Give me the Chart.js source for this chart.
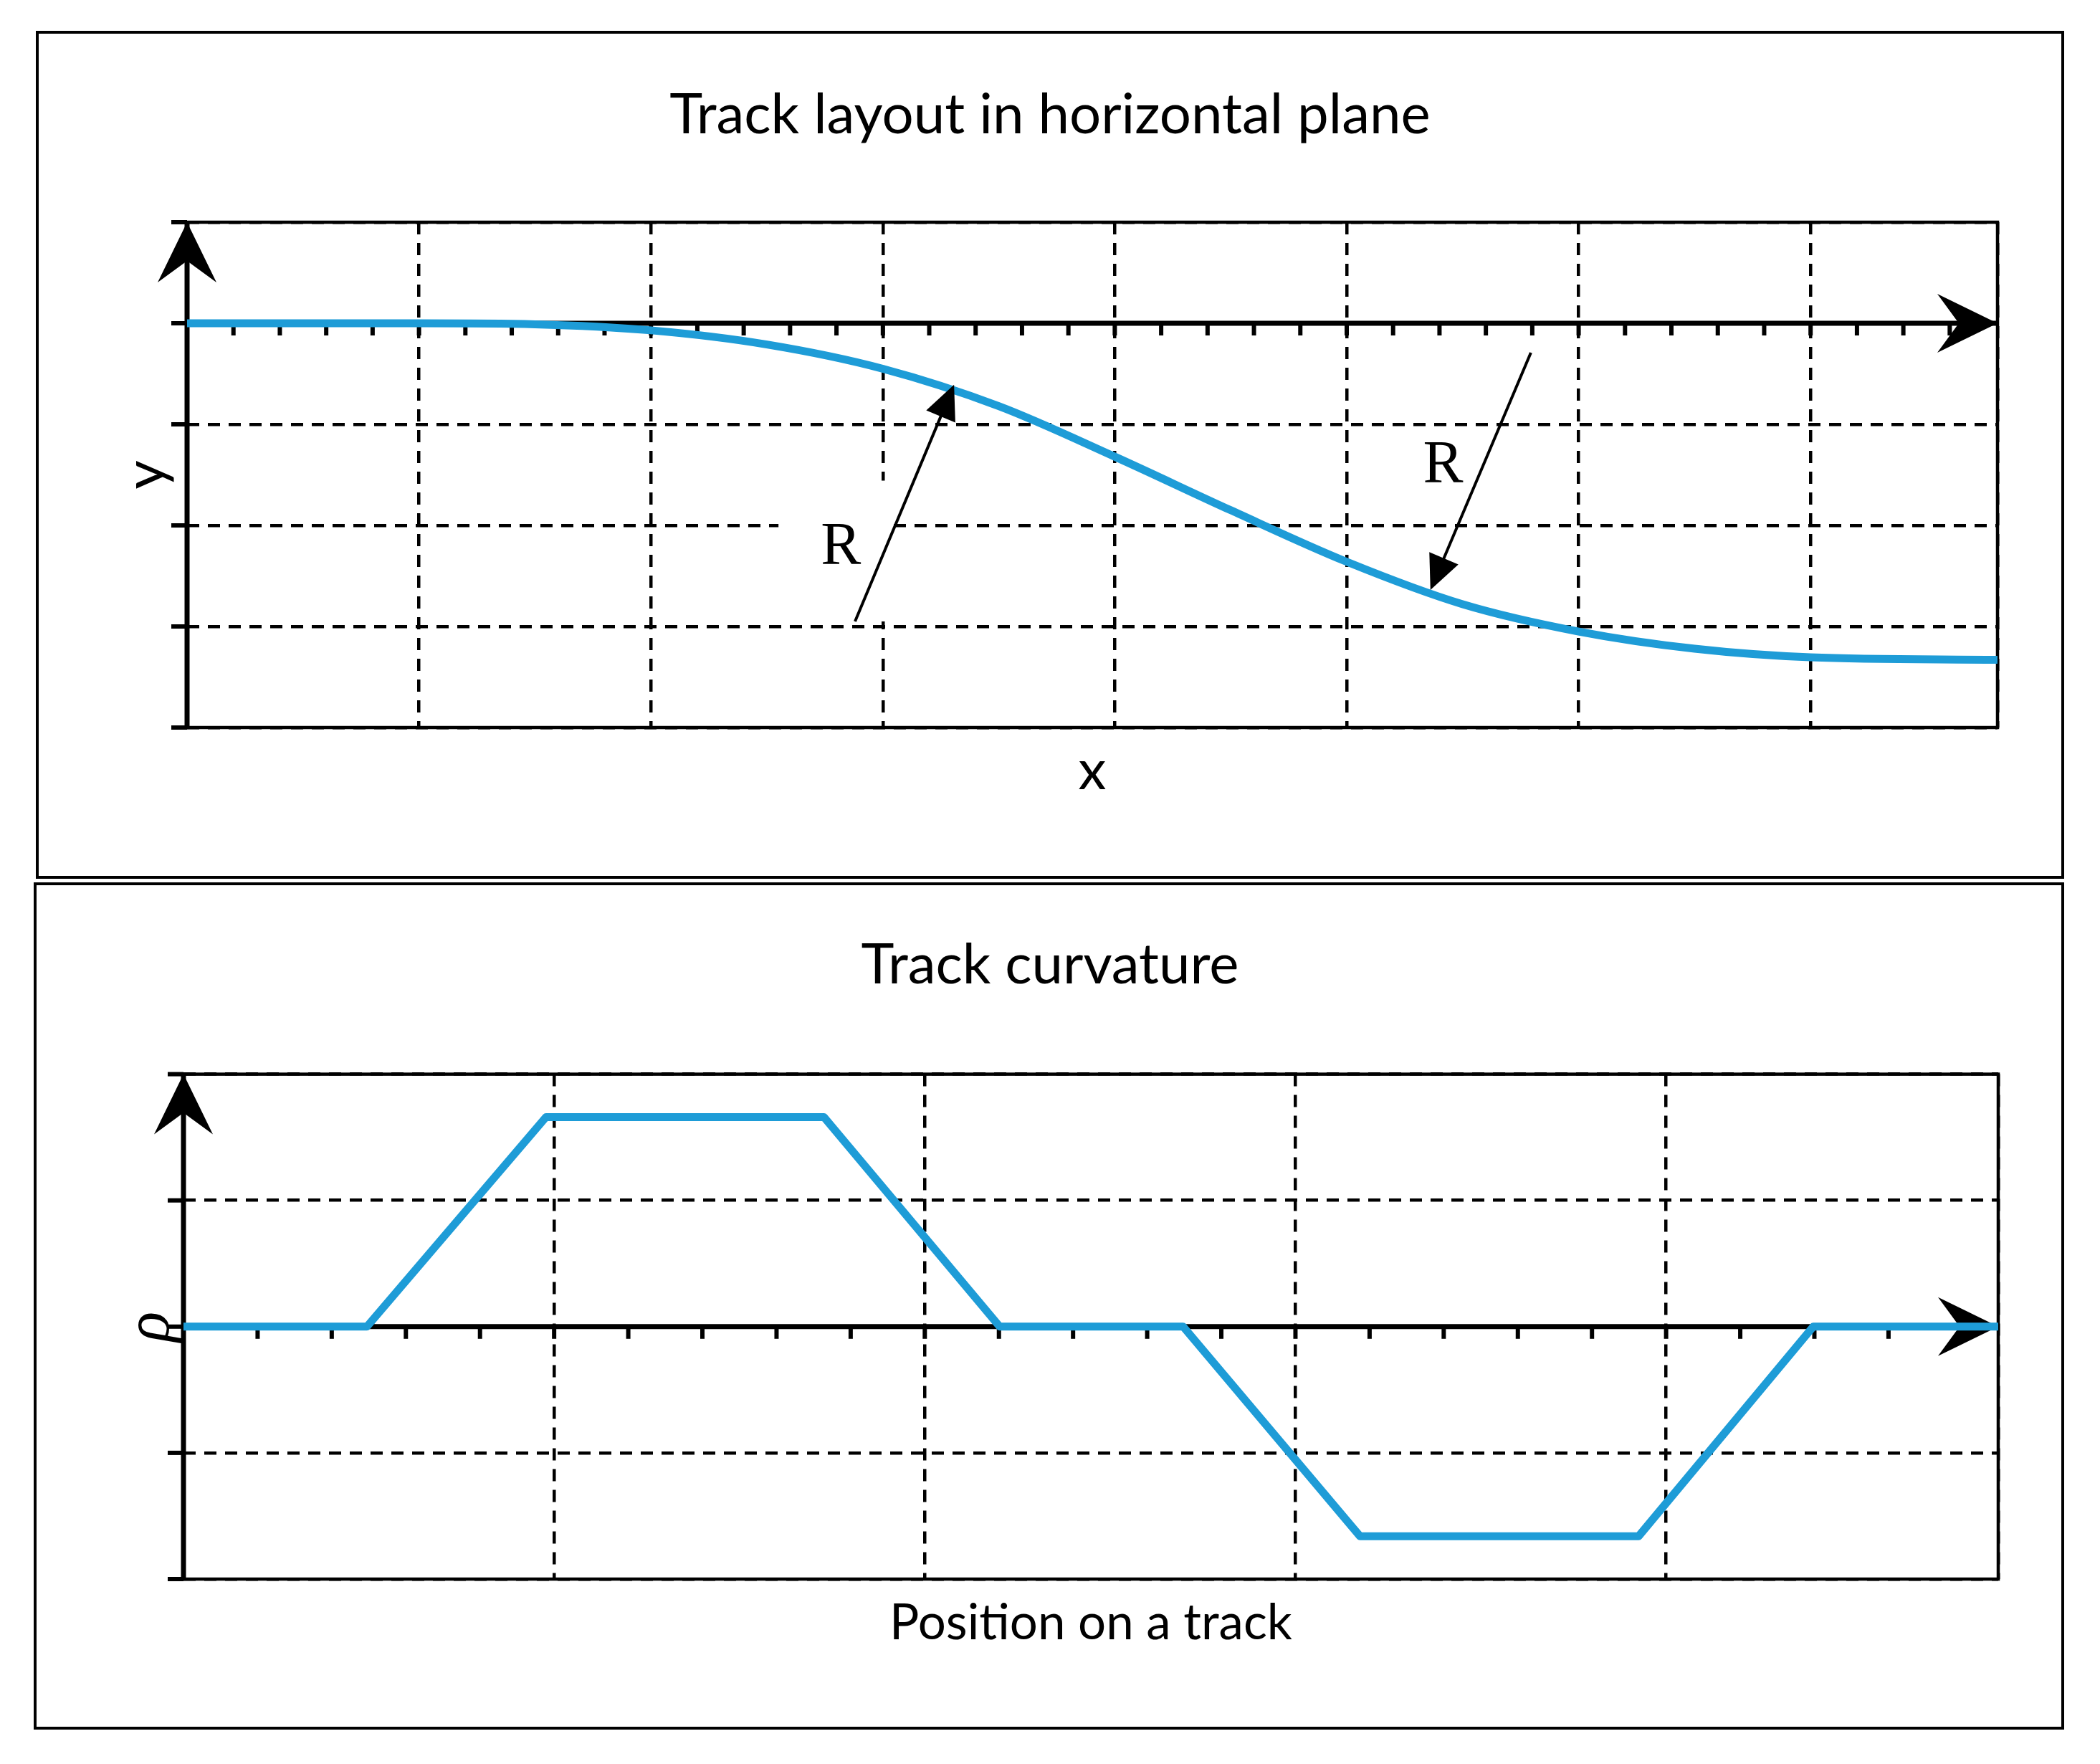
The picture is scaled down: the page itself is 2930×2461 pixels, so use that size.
<!DOCTYPE html>
<html>
<head>
<meta charset="utf-8">
<script src="https://cdn.jsdelivr.net/npm/chart.js@4.4.1/dist/chart.umd.min.js"></script>
<style>
  html, body { margin: 0; padding: 0; background: #fff; }
  body { width: 2930px; height: 2461px; position: relative; overflow: hidden; }
  .panel { position: absolute; box-sizing: border-box; border: 4px solid #000; }
  #panelTop { left: 50px; top: 43px; width: 2830px; height: 1183px; }
  #panelBottom { left: 47px; top: 1231px; width: 2833px; height: 1182px; }
  canvas { position: absolute; left: 0; }
  #layoutChart { top: 0; }
  #curvatureChart { top: 1228px; }
</style>
</head>
<body>
<div class="panel" id="panelTop"></div>
<div class="panel" id="panelBottom"></div>
<canvas id="layoutChart" width="2930" height="1228"></canvas>
<canvas id="curvatureChart" width="2930" height="1233"></canvas>
<script>
// Track layout and curvature, values in grid units

// Track layout in horizontal plane
const layoutX = [0, 0.5, 1, 1.5, 2, 2.5, 3, 3.5, 4, 4.5, 5, 5.5, 6, 6.5, 7, 7.806];
const layoutY = [0, 0, 0, -0.01, -0.07, -0.21, -0.45, -0.82, -1.32, -1.85, -2.36, -2.78, -3.05, -3.22, -3.305, -3.33];

// Track curvature
const curvatureX = [0, 0.495, 0.978, 1.728, 2.202, 2.697, 3.174, 3.926, 4.397, 4.896];
const curvatureY = [0, 0, 1.66, 1.66, 0, 0, -1.66, -1.66, 0, 0];

// R arrows: tail x, tail y, tip x, tip y, label x, label y
const radiusArrows = [
  [2.88, -2.95, 3.307, -0.608, 2.819, -2.228],
  [5.794, -0.291, 5.361, -2.639, 5.416, -1.418]
];
// white box left behind the first R label: x from, x to, y from, y to
const maskBox = [2.55, 3.045, -2.95, -1.557];

const titles = ['Track layout in horizontal plane', 'Track curvature'];
const axisTitles = ['x', 'y', 'Position on a track', 'ρ'];

const BLUE = '#1e9cd7';
const SANS = 'Lato';
const SERIF = '"Liberation Serif", "Times New Roman", serif';

// font sizes so the texts get the widths they have in the picture
const probe = document.createElement('canvas').getContext('2d');
probe.font = '100px ' + SANS;
const FS = Math.round(100 * 1061 / probe.measureText(titles[0]).width);
const FS2 = Math.round(100 * 561 / probe.measureText(axisTitles[2]).width);

function line(ctx, x0, y0, x1, y1) {
  ctx.beginPath();
  ctx.moveTo(x0, y0);
  ctx.lineTo(x1, y1);
  ctx.stroke();
}

// notched arrow head, (dx, dy) points from the tip backwards
function axisArrow(ctx, tx, ty, dx, dy) {
  const L = 84, W = 41, N = 54;
  const nx = -dy, ny = dx;
  ctx.beginPath();
  ctx.moveTo(tx, ty);
  ctx.lineTo(tx + dx * L + nx * W, ty + dy * L + ny * W);
  ctx.lineTo(tx + dx * N, ty + dy * N);
  ctx.lineTo(tx + dx * L - nx * W, ty + dy * L - ny * W);
  ctx.closePath();
  ctx.fill();
}

const decor = {
  id: 'decor',
  beforeDatasetsDraw(chart, args, opts) {
    const {ctx, chartArea: a, scales: {x, y}} = chart;
    ctx.save();
    ctx.strokeStyle = '#000';
    ctx.fillStyle = '#000';
    if (opts.mask) {
      const [x0, x1, y0, y1] = opts.mask;
      const left = x.getPixelForValue(x0), top = y.getPixelForValue(y1);
      ctx.fillStyle = '#fff';
      ctx.fillRect(left, top, x.getPixelForValue(x1) - left, y.getPixelForValue(y0) - top);
      ctx.fillStyle = '#000';
    }
    // frame
    ctx.lineWidth = 4.5;
    ctx.strokeRect(a.left, a.top, a.right - a.left, a.bottom - a.top);
    // ticks left of the y axis
    ctx.lineWidth = 6;
    y.ticks.forEach(t => {
      const py = y.getPixelForValue(t.value);
      line(ctx, a.left - 22, py, a.left, py);
    });
    // small ticks under the zero line
    const zy = y.getPixelForValue(0);
    for (let i = 1; i * opts.minor < x.max - opts.minor / 2; i++) {
      const px = x.getPixelForValue(i * opts.minor);
      line(ctx, px, zy, px, zy + 17);
    }
    // axes with arrows
    ctx.lineWidth = 7;
    line(ctx, a.left, a.top, a.left, a.bottom);
    line(ctx, a.left, zy, a.right, zy);
    axisArrow(ctx, a.left, a.top, 0, 1);
    axisArrow(ctx, a.right, zy, -1, 0);
    ctx.restore();
  },
  afterDatasetsDraw(chart, args, opts) {
    if (!opts.arrows) return;
    const {ctx, scales: {x, y}} = chart;
    ctx.save();
    ctx.strokeStyle = '#000';
    ctx.fillStyle = '#000';
    ctx.lineWidth = 4;
    opts.arrows.forEach(([ax, ay, bx, by, lx, ly]) => {
      const x0 = x.getPixelForValue(ax), y0 = y.getPixelForValue(ay);
      const x1 = x.getPixelForValue(bx), y1 = y.getPixelForValue(by);
      const len = Math.hypot(x0 - x1, y0 - y1);
      const ux = (x0 - x1) / len, uy = (y0 - y1) / len;
      line(ctx, x0, y0, x1 + ux * 40, y1 + uy * 40);
      ctx.beginPath();
      ctx.moveTo(x1, y1);
      ctx.lineTo(x1 + ux * 48 - uy * 22, y1 + uy * 48 + ux * 22);
      ctx.lineTo(x1 + ux * 48 + uy * 22, y1 + uy * 48 - ux * 22);
      ctx.closePath();
      ctx.fill();
      ctx.font = '84px ' + SERIF;
      ctx.textAlign = 'center';
      ctx.textBaseline = 'middle';
      ctx.fillText('R', x.getPixelForValue(lx), y.getPixelForValue(ly));
    });
    ctx.restore();
  }
};

function gridScale(min, max, title) {
  return {
    type: 'linear',
    min: min,
    max: max,
    ticks: {display: false, stepSize: 1},
    grid: {color: '#000', lineWidth: 4.5, drawTicks: false},
    border: {display: false, dash: [17, 12]},
    title: title
  };
}

function points(xs, ys) {
  return xs.map((v, i) => ({x: v, y: ys[i]}));
}

// Top chart
new Chart(document.getElementById('layoutChart'), {
  type: 'line',
  data: {
    datasets: [{
      data: points(layoutX, layoutY),
      borderColor: BLUE,
      borderWidth: 11,
      pointRadius: 0,
      cubicInterpolationMode: 'monotone',
      fill: false
    }]
  },
  options: {
    responsive: false,
    devicePixelRatio: 1,
    animation: false,
    layout: {padding: {left: 143, right: 143, top: 0, bottom: 0}},
    plugins: {
      legend: {display: false},
      tooltip: {enabled: false},
      title: {
        display: true,
        text: titles[0],
        color: '#000',
        font: {family: SANS, size: FS, weight: 'normal'},
        padding: {top: 161 - 0.6 * FS, bottom: 149 - 0.6 * FS}
      },
      decor: {minor: 0.2, mask: maskBox, arrows: radiusArrows}
    },
    scales: {
      x: gridScale(0, 7.806, {
        display: true, text: axisTitles[0], color: '#000',
        font: {family: SANS, size: FS},
        padding: {top: 61 - 0.6 * FS, bottom: 152 - 0.6 * FS}
      }),
      y: gridScale(-4, 1, {
        display: true, text: axisTitles[1], color: '#000',
        font: {family: SANS, size: FS},
        padding: {top: 61 - 0.6 * FS, bottom: 57 - 0.6 * FS}
      })
    }
  },
  plugins: [decor]
});

// Bottom chart
new Chart(document.getElementById('curvatureChart'), {
  type: 'line',
  data: {
    datasets: [{
      data: points(curvatureX, curvatureY),
      borderColor: BLUE,
      borderWidth: 11,
      borderJoinStyle: 'round',
      pointRadius: 0,
      tension: 0,
      fill: false
    }]
  },
  options: {
    responsive: false,
    devicePixelRatio: 1,
    animation: false,
    layout: {padding: {left: 142, right: 142, top: 0, bottom: 0}},
    plugins: {
      legend: {display: false},
      tooltip: {enabled: false},
      title: {
        display: true,
        text: titles[1],
        color: '#000',
        font: {family: SANS, size: FS, weight: 'normal'},
        padding: {top: 119 - 0.6 * FS, bottom: 151.6 - 0.6 * FS}
      },
      decor: {minor: 0.2}
    },
    scales: {
      x: gridScale(0, 4.896, {
        display: true, text: axisTitles[2], color: '#000',
        font: {family: SANS, size: FS2},
        padding: {top: 62 - 0.6 * FS2, bottom: 196 - 0.6 * FS2}
      }),
      y: gridScale(-2, 2, {
        display: true, text: axisTitles[3], color: '#000',
        font: {family: SERIF, size: 88, style: 'italic', lineHeight: 1},
        padding: {top: 26, bottom: 0}
      })
    }
  },
  plugins: [decor]
});
</script>
</body>
</html>
